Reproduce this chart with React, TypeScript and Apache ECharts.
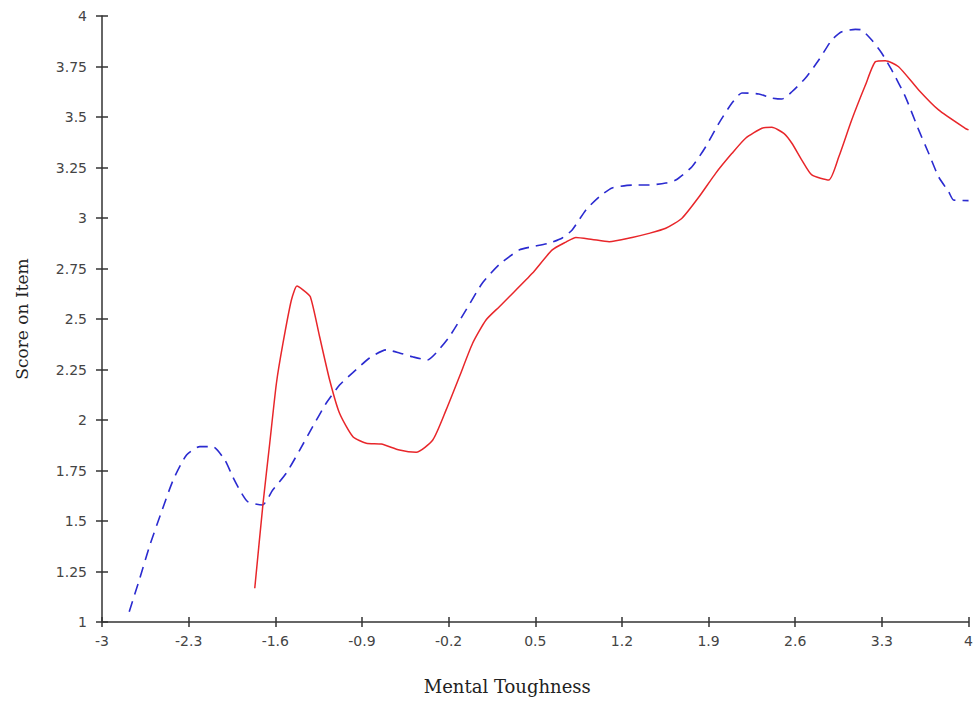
import React, { useEffect, useRef } from "react";
import * as echarts from "echarts";

const xTicks = [-3, -2.3, -1.6, -0.9, -0.2, 0.5, 1.2, 1.9, 2.6, 3.3, 4];

const blueX = [-2.78, -2.694, -2.613, -2.519, -2.425, -2.317, -2.21, -2.105, -2.008, -1.944, -1.887, -1.823, -1.704, -1.621, -1.51, -1.403, -1.298, -1.188, -1.081, -0.976, -0.839, -0.704, -0.597, -0.492, -0.371, -0.301, -0.194, -0.059, 0.073, 0.21, 0.371, 0.476, 0.613, 0.718, 0.798, 0.909, 1.016, 1.121, 1.282, 1.419, 1.554, 1.635, 1.766, 1.877, 1.984, 2.089, 2.169, 2.306, 2.411, 2.492, 2.573, 2.683, 2.79, 2.895, 2.976, 3.086, 3.137, 3.218, 3.298, 3.379, 3.49, 3.597, 3.677, 3.758, 3.839, 3.879, 4.0];
const blueY = [1.051, 1.218, 1.381, 1.546, 1.703, 1.827, 1.868, 1.868, 1.802, 1.719, 1.653, 1.596, 1.579, 1.653, 1.738, 1.851, 1.967, 2.084, 2.173, 2.233, 2.307, 2.347, 2.332, 2.313, 2.297, 2.332, 2.412, 2.545, 2.678, 2.77, 2.842, 2.858, 2.876, 2.901, 2.941, 3.04, 3.105, 3.149, 3.163, 3.163, 3.173, 3.188, 3.254, 3.353, 3.47, 3.569, 3.619, 3.614, 3.594, 3.589, 3.625, 3.693, 3.782, 3.881, 3.922, 3.934, 3.931, 3.881, 3.817, 3.733, 3.6, 3.436, 3.322, 3.204, 3.13, 3.089, 3.086];

const redX = [-1.766, -1.699, -1.645, -1.591, -1.538, -1.47, -1.425, -1.377, -1.317, -1.242, -1.161, -1.081, -0.973, -0.865, -0.744, -0.597, -0.462, -0.328, -0.22, -0.113, -0.006, 0.102, 0.21, 0.29, 0.476, 0.637, 0.748, 0.828, 0.96, 1.097, 1.282, 1.419, 1.554, 1.685, 1.823, 1.957, 2.089, 2.199, 2.331, 2.411, 2.508, 2.573, 2.653, 2.734, 2.871, 2.952, 3.056, 3.167, 3.248, 3.328, 3.435, 3.597, 3.758, 3.973, 4.0];
const redY = [1.167, 1.588, 1.885, 2.182, 2.38, 2.594, 2.663, 2.644, 2.61, 2.412, 2.198, 2.033, 1.917, 1.885, 1.881, 1.851, 1.84, 1.901, 2.05, 2.214, 2.38, 2.495, 2.561, 2.61, 2.726, 2.842, 2.881, 2.904, 2.894, 2.883, 2.904, 2.924, 2.949, 2.999, 3.105, 3.221, 3.32, 3.395, 3.444, 3.449, 3.419, 3.37, 3.287, 3.213, 3.188, 3.303, 3.485, 3.658, 3.774, 3.779, 3.749, 3.634, 3.535, 3.444, 3.436];

const labelStyle = { color: "#444", fontSize: 14, fontFamily: "DejaVu Sans, sans-serif" };
const nameFont = "DejaVu Serif, serif";

export default function App() {
  const ref = useRef<HTMLDivElement>(null);
  useEffect(() => {
    if (!ref.current) return;
    const chart = echarts.init(ref.current, null, { renderer: "svg" });
    const axisLine = { show: true, onZero: false, lineStyle: { color: "#333", width: 1.5 } };
    const tickStyle = { color: "#333", width: 1.5 };
    chart.setOption({
      animation: false,
      grid: { left: 102, right: 6, top: 16, bottom: 81, containLabel: false },
      xAxis: [
        {
          type: "value",
          min: -3,
          max: 4,
          position: "bottom",
          name: "Mental Toughness",
          nameLocation: "middle",
          nameGap: 55,
          nameTextStyle: { fontFamily: nameFont, fontSize: 18, color: "#222", padding: [0, 56, 0, 0] },
          axisLine,
          axisTick: { show: true, customValues: xTicks, length: 5, lineStyle: tickStyle },
          axisLabel: { ...labelStyle, customValues: xTicks, margin: 12, showMaxLabel: true, showMinLabel: true },
          splitLine: { show: false },
        },
        {
          type: "value",
          min: -3,
          max: 4,
          position: "bottom",
          axisLine: { show: false, onZero: false },
          axisTick: { show: true, inside: true, customValues: xTicks, length: 5, lineStyle: tickStyle },
          axisLabel: { show: false },
          splitLine: { show: false },
        },
      ],
      yAxis: [
        {
          type: "value",
          min: 1,
          max: 4,
          interval: 0.25,
          position: "left",
          name: "Score on Item",
          nameLocation: "middle",
          nameGap: 72,
          nameTextStyle: { fontFamily: nameFont, fontSize: 17, color: "#222" },
          axisLine,
          axisTick: { show: true, length: 6, lineStyle: tickStyle },
          axisLabel: { ...labelStyle, margin: 15 },
          splitLine: { show: false },
        },
        {
          type: "value",
          min: 1,
          max: 4,
          interval: 0.25,
          position: "left",
          axisLine: { show: false, onZero: false },
          axisTick: { show: true, inside: true, length: 6, lineStyle: tickStyle },
          axisLabel: { show: false },
          splitLine: { show: false },
        },
      ],
      series: [
        {
          type: "line",
          data: blueX.map((x, i) => [x, blueY[i]]),
          showSymbol: false,
          smooth: 0.2,
          lineStyle: { color: "#2b2bd0", width: 1.6, type: [11, 7] },
          z: 2,
        },
        {
          type: "line",
          data: redX.map((x, i) => [x, redY[i]]),
          showSymbol: false,
          smooth: 0.2,
          lineStyle: { color: "#e8262a", width: 1.5 },
          z: 3,
        },
      ],
    });
    return () => chart.dispose();
  }, []);
  return <div ref={ref} style={{ width: 976, height: 703, position: "absolute", left: 0, top: 0, background: "#fff" }} />;
}
